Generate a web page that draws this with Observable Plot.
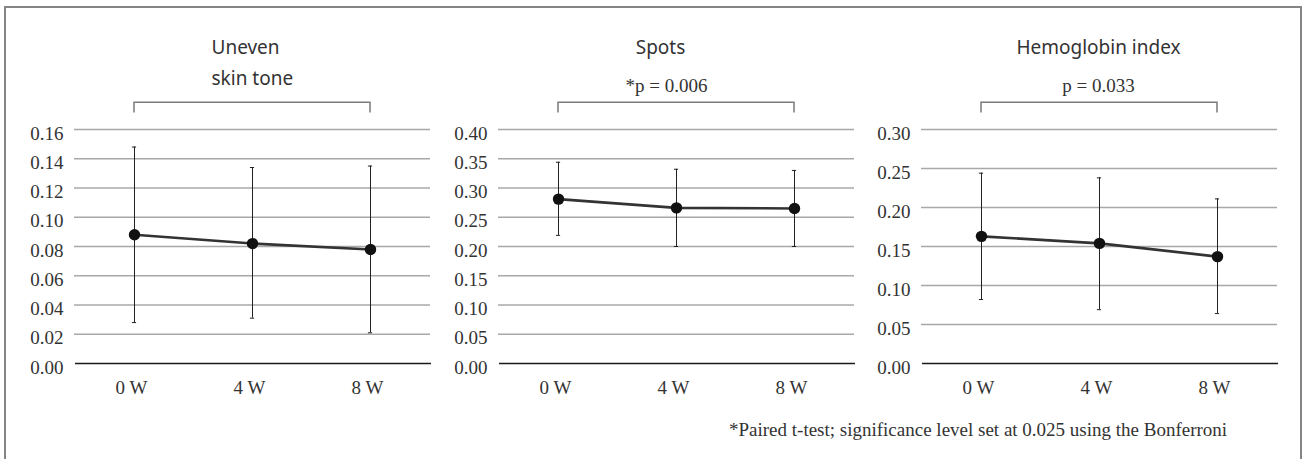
<!DOCTYPE html>
<html>
<head>
<meta charset="utf-8">
<script src="https://cdn.jsdelivr.net/npm/d3@7"></script>
<script src="https://cdn.jsdelivr.net/npm/@observablehq/plot@0.6"></script>
<style>
  html, body { margin: 0; padding: 0; background: #fff; }
  #root { position: relative; width: 1305px; height: 459px; overflow: hidden; background: #fff; }
  #frame { position: absolute; left: 4px; top: 6px; width: 1298px; height: 453px; box-sizing: border-box;
           border: 2px solid #858585; border-bottom: none; pointer-events: none; }
  .panel { position: absolute; top: 0; }
  #note { position: absolute; left: 729px; top: 419px; font: 19px "Liberation Serif", serif; color: #333; white-space: nowrap; line-height: 22px; }
</style>
</head>
<body>
<div id="root">
  <div id="frame"></div>
  <div id="note"></div>
</div>
<script>
// ---- data ----
const weeks = ["0 W", "4 W", "8 W"];

const unevenMean = [0.088, 0.082, 0.078];
const unevenHi   = [0.148, 0.134, 0.135];
const unevenLo   = [0.028, 0.031, 0.021];
const unevenTicks = [0, 0.02, 0.04, 0.06, 0.08, 0.10, 0.12, 0.14, 0.16];

const spotsMean = [0.281, 0.266, 0.265];
const spotsHi   = [0.344, 0.332, 0.330];
const spotsLo   = [0.219, 0.200, 0.200];
const spotsTicks = [0, 0.05, 0.10, 0.15, 0.20, 0.25, 0.30, 0.35, 0.40];

const hemoMean = [0.163, 0.154, 0.137];
const hemoHi   = [0.244, 0.238, 0.211];
const hemoLo   = [0.082, 0.069, 0.064];
const hemoTicks = [0, 0.05, 0.10, 0.15, 0.20, 0.25, 0.30];

const titles = [["Uneven", "skin tone"], ["Spots"], ["Hemoglobin index"]];
const pLabels = ["", "*p = 0.006", "p = 0.033"];
const footnote = "*Paired t-test; significance level set at 0.025 using the Bonferroni";

// ---- layout ----
const panels = [
  {mean: unevenMean, hi: unevenHi, lo: unevenLo, ticks: unevenTicks, left: 4,   titleDx: -41, titleAnchor: "start", pDx: 0},
  {mean: spotsMean,  hi: spotsHi,  lo: spotsLo,  ticks: spotsTicks,  left: 428, titleDx: -16, titleAnchor: "middle", pDx: -10},
  {mean: hemoMean,   hi: hemoHi,   lo: hemoLo,   ticks: hemoTicks,   left: 851, titleDx: -1,  titleAnchor: "middle", pDx: -1}
];

const root = document.getElementById("root");
const serif = '"Liberation Serif", "Times New Roman", serif';
const sans = '"Noto Sans", "DejaVu Sans", sans-serif';

panels.forEach((p, i) => {
  const rows = weeks.map((w, k) => ({week: w, mean: p.mean[k], hi: p.hi[k], lo: p.lo[k]}));
  const ymax = p.ticks[p.ticks.length - 1];
  const titleMarks = titles[i].map((line, j) =>
    Plot.text([line], {frameAnchor: "top", text: d => d, dy: -82 + 31 * j, dx: p.titleDx,
      textAnchor: p.titleAnchor, lineAnchor: "middle", fontFamily: sans, fontSize: 19, fill: "#333", letterSpacing: 0.6}));
  const plot = Plot.plot({
    width: 426,
    height: 459,
    marginLeft: 70,
    marginRight: 0,
    marginTop: 129,
    marginBottom: 96,
    style: {fontFamily: serif, fontSize: "19px", color: "#333", background: "none", overflow: "visible"},
    x: {type: "band", domain: weeks, padding: 0},
    y: {domain: [0, ymax]},
    marks: [
      Plot.ruleY(p.ticks.filter(t => t > 0), {stroke: "#a8a8a8", strokeWidth: 1.4}),
      Plot.ruleY([0], {stroke: "#1a1a1a", strokeWidth: 1.5, dx: 1}),
      Plot.axisY({ticks: p.ticks, tickFormat: d3.format(".2f"), tickSize: 0, tickPadding: 11, dy: 4, fill: "#333", label: null}),
      Plot.axisX({tickSize: 0, tickPadding: 17, dx: -3, fill: "#333", label: null}),
      Plot.ruleX(rows, {x: "week", y1: "lo", y2: "hi", stroke: "#222", strokeWidth: 1}),
      Plot.tickY(rows, {x: "week", y: "hi", stroke: "#222", strokeWidth: 1, insetLeft: 56.9, insetRight: 56.9}),
      Plot.tickY(rows, {x: "week", y: "lo", stroke: "#222", strokeWidth: 1, insetLeft: 56.9, insetRight: 56.9}),
      Plot.line(rows, {x: "week", y: "mean", stroke: "#333", strokeWidth: 2.6}),
      Plot.dot(rows, {x: "week", y: "mean", r: 5.7, fill: "#111", stroke: "none"}),
      ...titleMarks,
      Plot.text([pLabels[i]], {frameAnchor: "top", text: d => d, dy: -43.5, dx: p.pDx, lineAnchor: "middle", fontFamily: serif, fontSize: 19, fill: "#333"})
    ]
  });
  // bracket drawn using the plot's own x scale
  const xs = plot.scale("x");
  const cx = w => xs.apply(w) + xs.bandwidth / 2;
  const x0 = cx(weeks[0]), x1 = cx(weeks[weeks.length - 1]);
  const top = 129;
  d3.select(plot).append("path")
    .attr("d", `M${x0},${top - 16.5}V${top - 26.7}H${x1}V${top - 16.5}`)
    .attr("fill", "none").attr("stroke", "#7a7a7a").attr("stroke-width", 1.5);
  plot.classList.add("panel");
  plot.style.left = p.left + "px";
  root.appendChild(plot);
});

document.getElementById("note").textContent = footnote;
root.appendChild(document.getElementById("frame"));
</script>
</body>
</html>
